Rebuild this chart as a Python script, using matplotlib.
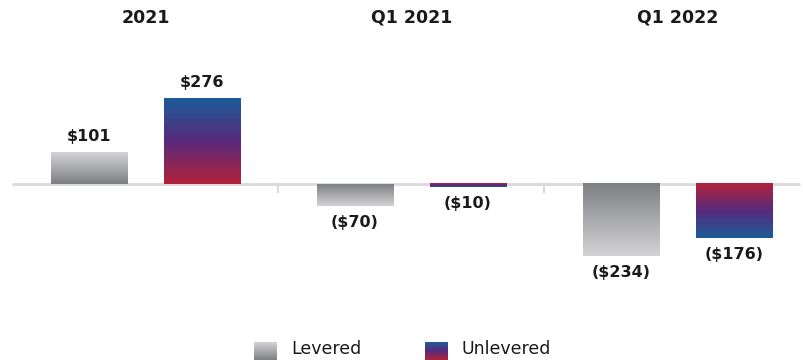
import numpy as np
import matplotlib.pyplot as plt
from matplotlib.colors import LinearSegmentedColormap

groups = ["2021", "Q1 2021", "Q1 2022"]
levered = [101, -70, -234]
unlevered = [276, -10, -176]
series_names = ["Levered", "Unlevered"]

# colour at baseline -> colour at far end of the bar
gray_cmap = LinearSegmentedColormap.from_list("g", ["#7e7f83", "#d4d4d6"])
uni_cmap = LinearSegmentedColormap.from_list("u", ["#b3223a", "#582a7c", "#1c5c98"])

plt.rcParams['font.family'] = ['DejaVu Sans']

fig = plt.figure(figsize=(8.04, 3.6), dpi=100)
ax = fig.add_axes([0, 0, 1, 1])
ax.axis('off')

width = 0.286
offset = 0.2125
grad = np.linspace(0, 1, 256).reshape(-1, 1)


def gradient_bar(x, v, cmap):
    x0, x1 = x - width / 2, x + width / 2
    if v >= 0:
        ax.imshow(grad, extent=[x0, x1, 0, v], origin='lower', aspect='auto', cmap=cmap, zorder=2)
    else:
        ax.imshow(grad[::-1], extent=[x0, x1, v, 0], origin='lower', aspect='auto', cmap=cmap, zorder=2)
    dy = 12 if v >= 0 else -12
    label = f"${v}" if v >= 0 else f"(${-v})"
    ax.annotate(label, (x, v), xytext=(0, dy), textcoords='offset points',
                ha='center', va='center', fontsize=11.5, fontweight='bold', color='#1a1a1a')


for i, g in enumerate(groups):
    gradient_bar(i - offset, levered[i], gray_cmap)
    gradient_bar(i + offset, unlevered[i], uni_cmap)
    ax.text(i, 540, g, ha='center', va='center', fontsize=12.5, fontweight='bold', color='#1a1a1a')

# baseline and separators
ax.plot([-0.502, 2.46], [0, 0], color='#d9d9d9', lw=2, zorder=1, solid_capstyle='butt')
for s in [0.5, 1.5]:
    ax.plot([s, s], [0, -26], color='#d9d9d9', lw=1.5, zorder=1)

ax.set_xlim(-0.547, 2.4756)
ax.set_ylim(-571.4, 597.4)

# legend with gradient swatches
W, H = 804, 360
for (x0, tx), name, cmap in zip([(254, 291), (425, 462)], series_names, [gray_cmap, uni_cmap]):
    sw = fig.add_axes([x0 / W, 0, 23 / W, 18 / H])
    sw.imshow(grad, origin='lower', aspect='auto', cmap=cmap)
    sw.axis('off')
    fig.text(tx / W, 1 - 349 / H, name, ha='left', va='center', fontsize=12.5, color='#1a1a1a')

fig.savefig("out.png", dpi=100)
